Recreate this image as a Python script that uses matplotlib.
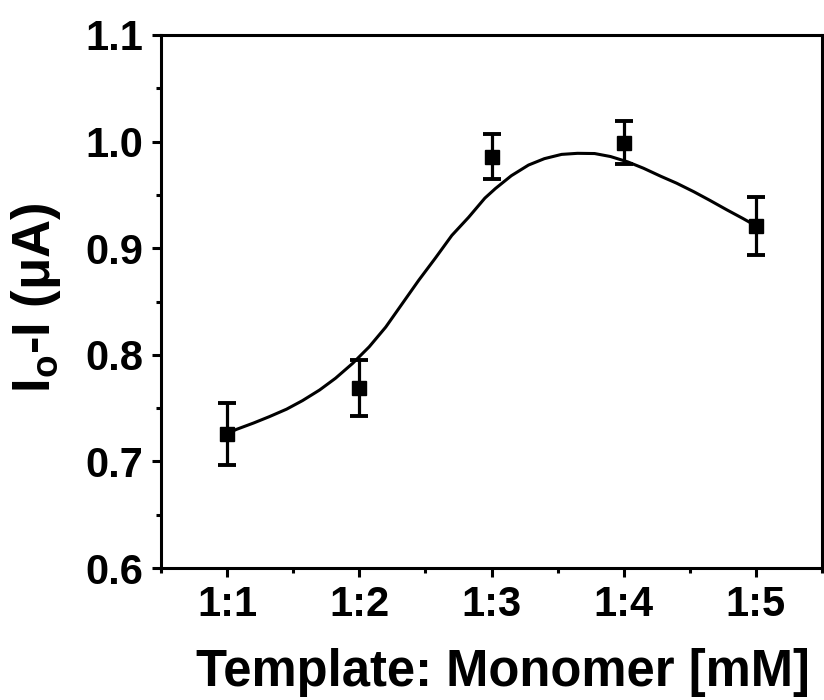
import matplotlib
matplotlib.use("Agg")
import matplotlib.pyplot as plt
from matplotlib.ticker import MultipleLocator

# ---- data ----
ratios = ["1:1", "1:2", "1:3", "1:4", "1:5"]
x_pos = [1, 2, 3, 4, 5]
current = [0.726, 0.769, 0.986, 0.999, 0.921]
current_err = [0.029, 0.026, 0.021, 0.020, 0.027]

# smooth fitted curve
curve_x = [1.00, 1.07, 1.20, 1.32, 1.45, 1.57, 1.70, 1.82, 1.95, 2.075,
           2.20, 2.325, 2.45, 2.577, 2.70, 2.827, 2.95, 3.03, 3.15, 3.28,
           3.40, 3.53, 3.65, 3.78, 3.90, 4.03, 4.15, 4.28, 4.40, 4.53,
           4.65, 4.78, 4.90, 5.00]
curve_y = [0.726, 0.730, 0.736, 0.742, 0.749, 0.757, 0.767, 0.778, 0.792, 0.8075,
           0.826, 0.848, 0.870, 0.891, 0.912, 0.929, 0.947, 0.956, 0.968, 0.978,
           0.984, 0.988, 0.989, 0.9888, 0.986, 0.981, 0.975, 0.9675, 0.961, 0.953,
           0.945, 0.936, 0.928, 0.921]

y_ticks = [0.6, 0.7, 0.8, 0.9, 1.0, 1.1]

plt.rcParams['font.family'] = ['Liberation Sans', 'DejaVu Sans']
plt.rcParams['font.weight'] = 'bold'
plt.rcParams['mathtext.fontset'] = 'custom'
plt.rcParams['mathtext.rm'] = 'Liberation Sans'
plt.rcParams['mathtext.default'] = 'rm'

fig = plt.figure(figsize=(8.24, 7.0), dpi=100)
ax = fig.add_axes([161/824, 132/700, 661/824, 533/700])

ax.plot(curve_x, curve_y, color='black', lw=2.2, zorder=2,
        solid_joinstyle='round')
ax.errorbar(x_pos, current, yerr=current_err, fmt='s', color='black',
            markersize=10.5, elinewidth=2.3, capsize=6.5, capthick=2.8,
            zorder=3)

ax.set_xlim(0.5, 5.5)
ax.set_ylim(0.6, 1.1)
ax.set_xticks(x_pos)
ax.set_xticklabels(ratios)
ax.set_yticks(y_ticks)
ax.set_yticklabels([f"{v:.1f}" for v in y_ticks])
ax.xaxis.set_minor_locator(MultipleLocator(0.5))
ax.yaxis.set_minor_locator(MultipleLocator(0.05))

for s in ax.spines.values():
    s.set_linewidth(2.2)
ax.tick_params(which='major', direction='out', length=6.5, width=2.2,
               labelsize=30, pad=6, top=False, right=False)
ax.tick_params(which='minor', direction='out', length=3.5, width=2.2,
               top=False, right=False)
for lab in ax.get_xticklabels() + ax.get_yticklabels():
    lab.set_fontweight('bold')

ax.set_xlabel("Template: Monomer [mM]", fontsize=36.5, fontweight='bold')
ax.set_ylabel("I$_\\mathregular{o}$-I (μA)", fontsize=38, fontweight='bold')
ax.xaxis.set_label_coords(0.5166, -0.150)
ax.yaxis.set_label_coords(-0.148, 0.507)

fig.savefig("out.png", dpi=100)
